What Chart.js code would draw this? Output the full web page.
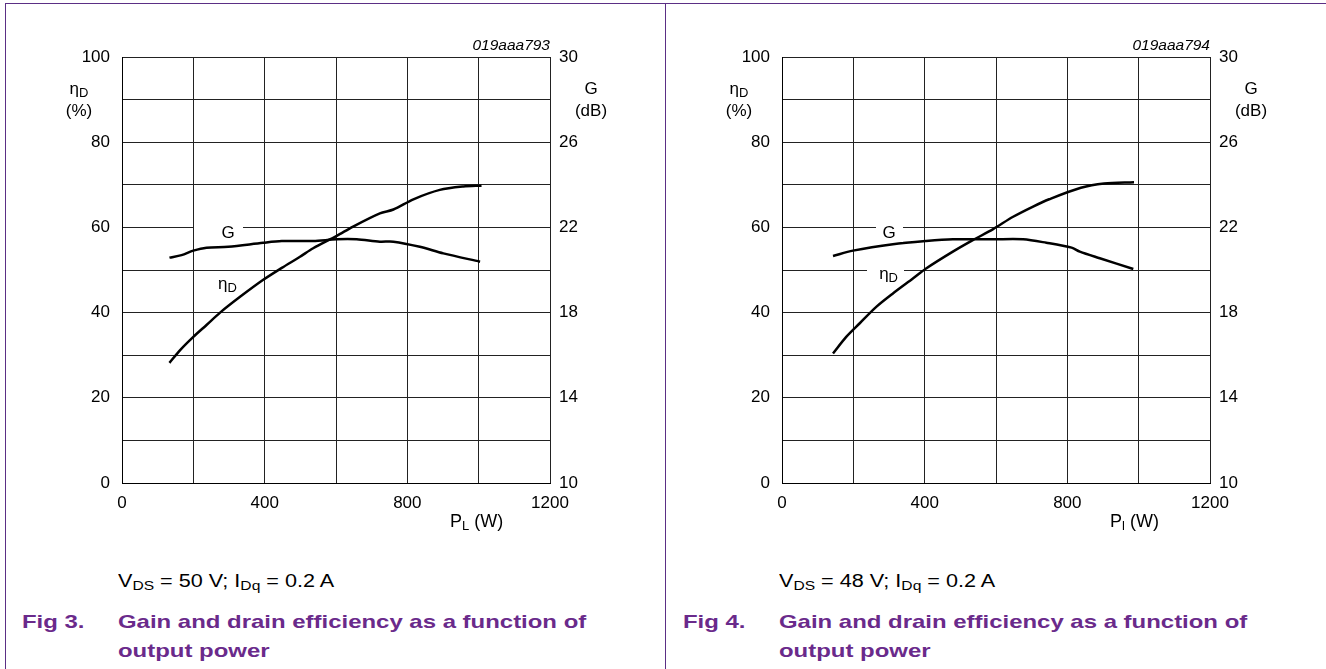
<!DOCTYPE html>
<html>
<head>
<meta charset="utf-8">
<script src="https://cdn.jsdelivr.net/npm/chart.js@4.4.1/dist/chart.umd.min.js"></script>
<style>
  html, body { margin: 0; padding: 0; background: #fff; }
  body { width: 1326px; height: 669px; position: relative; overflow: hidden;
         font-family: 'Liberation Sans', Arial, sans-serif; color: #000; }
  .abs { position: absolute; white-space: nowrap; }
  .marco { position: absolute; background: #5b2f85; }
  canvas { position: absolute; }
  sub { font-size: 13px; vertical-align: -3px; line-height: 0; }
  .titulo { width: 100px; text-align: center; font-size: 17px; line-height: 22px; }
  .codigo { font-size: 15.5px; line-height: 16px; font-style: italic; }
  .eje { font-size: 18px; line-height: 18px; }
  .cond { font-size: 18px; line-height: 18px; transform: scaleX(1.2); transform-origin: left top; }
  .fig { font-size: 19px; line-height: 29px; font-weight: bold; color: #6a2a8b;
         transform: scaleX(1.26); transform-origin: left top; }
  .curva { position: absolute; background: #fff; font-size: 17px; line-height: 18px; white-space: nowrap; }
</style>
</head>
<body>
<!-- marco del documento -->
<div class="marco" style="left:5px; top:3px; width:1321px; height:1px;"></div>
<div class="marco" style="left:5px; top:3px; width:1px; height:666px;"></div>
<div class="marco" style="left:665px; top:3px; width:1px; height:666px;"></div>

<!-- Fig 3 -->
<canvas id="grafico3" width="560" height="480" style="left:60px; top:40px;"></canvas>
<div class="abs codigo" style="right:776px; top:37px;">019aaa793</div>
<div class="abs titulo" style="left:29px; top:78px;">η<sub>D</sub><br>(%)</div>
<div class="abs titulo" style="left:541px; top:78px;">G<br>(dB)</div>
<div class="abs eje" style="left:450px; top:512px;">P<sub>L</sub> (W)</div>
<div class="abs cond" style="left:118px; top:572px;">V<sub>DS</sub> = 50 V; I<sub>Dq</sub> = 0.2 A</div>
<div class="abs fig" style="left:22px; top:607px;">Fig 3.</div>
<div class="abs fig" style="left:118px; top:607px;">Gain and drain efficiency as a function of<br>output power</div>

<!-- Fig 4 -->
<canvas id="grafico4" width="560" height="480" style="left:720px; top:40px;"></canvas>
<div class="abs codigo" style="right:116px; top:37px;">019aaa794</div>
<div class="abs titulo" style="left:689px; top:78px;">η<sub>D</sub><br>(%)</div>
<div class="abs titulo" style="left:1201px; top:78px;">G<br>(dB)</div>
<div class="abs eje" style="left:1110px; top:512px;">P<sub>l</sub> (W)</div>
<div class="abs cond" style="left:779px; top:572px;">V<sub>DS</sub> = 48 V; I<sub>Dq</sub> = 0.2 A</div>
<div class="abs fig" style="left:683px; top:607px;">Fig 4.</div>
<div class="abs fig" style="left:779px; top:607px;">Gain and drain efficiency as a function of<br>output power</div>

<script>
// Etiquetas de los ejes
const ejeX = [0, 400, 800, 1200];
const ejeEficiencia = [0, 20, 40, 60, 80, 100];
const ejeGanancia = [10, 14, 18, 22, 26, 30];

// Fig 3: VDS = 50 V
const potenciaG3 = [133, 167, 200, 237, 298, 396, 448, 536, 602, 658, 723, 761, 835, 901, 1004];
const ganancia3 = [20.58, 20.70, 20.91, 21.05, 21.09, 21.28, 21.36, 21.36, 21.44, 21.44, 21.33, 21.33, 21.09, 20.78, 20.39];
const potenciaEta3 = [133, 163, 200, 237, 275, 331, 396, 448, 499, 536, 602, 648, 723, 761, 817, 891, 957, 1008];
const eficiencia3 = [28.2, 31.2, 34.3, 37.1, 40.0, 43.7, 47.7, 50.5, 53.1, 55.1, 58.0, 60.2, 63.3, 64.2, 66.6, 68.8, 69.6, 69.8];

// Fig 4: VDS = 48 V
const potenciaG4 = [143, 199, 311, 404, 479, 592, 676, 741, 812, 835, 891, 985];
const ganancia4 = [20.66, 20.91, 21.21, 21.36, 21.44, 21.44, 21.44, 21.28, 21.05, 20.86, 20.55, 20.05];
const potenciaEta4 = [143, 180, 218, 265, 311, 367, 405, 479, 535, 592, 648, 704, 749, 838, 903, 987];
const eficiencia4 = [30.4, 34.3, 37.5, 41.4, 44.5, 48.0, 50.4, 54.3, 57.0, 59.6, 62.5, 64.9, 66.6, 69.3, 70.3, 70.6];

const fuente = { family: "'Liberation Sans', Arial, sans-serif", size: 17 };

// Ancho fijo de cada eje, sin el relleno extra de las etiquetas
function fijarEje(ancho, alto) {
    return function(s) {
        if (ancho) s.width = ancho;
        if (alto) s.height = alto;
        s.paddingTop = 0;
        s.paddingBottom = 0;
        s.paddingLeft = 0;
        s.paddingRight = 0;
    };
}

function crearGrafico(id, potG, gan, potEta, efic) {
    const ctx = document.getElementById(id).getContext('2d');
    const estiloCurva = { borderColor: '#000', borderWidth: 2.5, pointRadius: 0, tension: 0.3, fill: false };
    return new Chart(ctx, {
        type: 'line',
        data: {
            datasets: [
                Object.assign({ label: 'G', yAxisID: 'yG',
                    data: potG.map((p, i) => ({ x: p, y: gan[i] })) }, estiloCurva),
                Object.assign({ label: 'ηD', yAxisID: 'y',
                    data: potEta.map((p, i) => ({ x: p, y: efic[i] })) }, estiloCurva)
            ]
        },
        options: {
            responsive: false,
            animation: false,
            layout: { padding: { top: 17, left: 0, right: 0, bottom: 0 } },
            plugins: { legend: { display: false }, tooltip: { enabled: false } },
            scales: {
                x: {
                    type: 'linear', min: 0, max: 1200,
                    afterFit: fijarEje(0, 37),
                    ticks: { stepSize: 200, autoSkip: false, maxRotation: 0, padding: 10, color: '#000', font: fuente,
                             callback: v => ejeX.includes(v) ? v : '' },
                    grid: { color: '#222', lineWidth: 1, drawTicks: false },
                    border: { color: '#000', width: 1 }
                },
                y: {
                    position: 'left', min: 0, max: 100,
                    afterFit: fijarEje(62, 0),
                    ticks: { stepSize: 10, autoSkip: false, padding: 12, color: '#000', font: fuente,
                             callback: v => ejeEficiencia.includes(v) ? v : '' },
                    grid: { color: '#222', lineWidth: 1, drawTicks: false },
                    border: { color: '#000', width: 1 }
                },
                yG: {
                    position: 'right', min: 10, max: 30,
                    afterFit: fijarEje(70, 0),
                    ticks: { stepSize: 2, autoSkip: false, padding: 9, color: '#000', font: fuente,
                             callback: v => ejeGanancia.includes(v) ? v : '' },
                    grid: { display: false, drawTicks: false },
                    border: { display: false }
                }
            }
        }
    });
}

// Etiqueta de curva con fondo blanco, centrada en (potencia, %)
function colocarEtiqueta(grafico, idCanvas, texto, potencia, pct, padL, padR) {
    const canvas = document.getElementById(idCanvas);
    const div = document.createElement('div');
    div.className = 'curva';
    div.innerHTML = texto;
    div.style.paddingLeft = padL + 'px';
    div.style.paddingRight = padR + 'px';
    document.body.appendChild(div);
    const cx = canvas.offsetLeft + grafico.scales.x.getPixelForValue(potencia);
    const cy = canvas.offsetTop + grafico.scales.y.getPixelForValue(pct);
    const anchoTexto = div.offsetWidth - padL - padR;
    div.style.left = (cx - padL - anchoTexto / 2) + 'px';
    div.style.top = (cy - div.offsetHeight / 2) + 'px';
}

document.addEventListener('DOMContentLoaded', function() {
    const g3 = crearGrafico('grafico3', potenciaG3, ganancia3, potenciaEta3, eficiencia3);
    colocarEtiqueta(g3, 'grafico3', 'G', 297, 58.7, 27, 8);
    colocarEtiqueta(g3, 'grafico3', 'η<sub>D</sub>', 296, 46.7, 4, 4);

    const g4 = crearGrafico('grafico4', potenciaG4, ganancia4, potenciaEta4, eficiencia4);
    colocarEtiqueta(g4, 'grafico4', 'G', 300, 58.7, 7, 7);
    colocarEtiqueta(g4, 'grafico4', 'η<sub>D</sub>', 299, 49, 12, 6);
});
</script>
</body>
</html>
